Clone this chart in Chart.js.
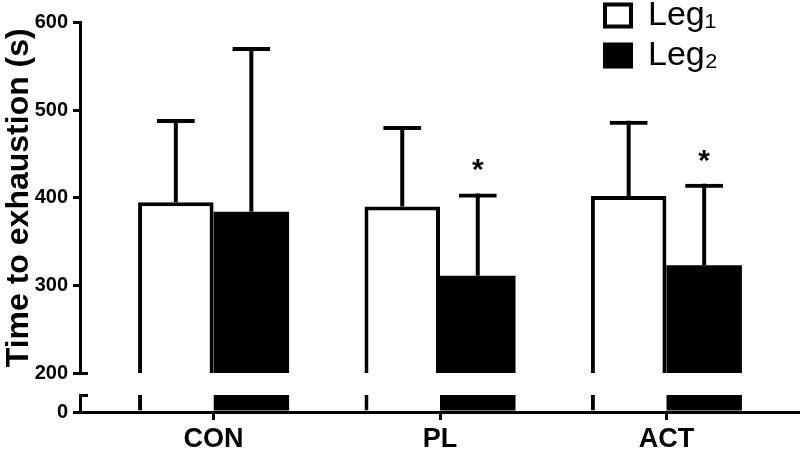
<!DOCTYPE html>
<html>
<head>
<meta charset="utf-8">
<script src="https://cdn.jsdelivr.net/npm/chart.js@4.4.1/dist/chart.umd.min.js"></script>
<style>
  body { margin: 0; background: #fff; }
  #wrap { width: 800px; height: 453px; position: relative; }
</style>
</head>
<body>
<div id="wrap"><canvas id="miGrafica"></canvas></div>
<script>
// datos
var categories = ["CON", "PL", "ACT"];
var legendNames = ["Leg\u2081", "Leg\u2082"];
var leg1Mean = [395, 390, 402];
var leg1Sd = [95, 92, 86];
var leg2Mean = [384, 311, 323];
var leg2Sd = [188, 94, 93];
var leg2Sig = ["", "*", "*"];
var yTicks = [200, 300, 400, 500, 600];
var lowTicks = [0, 20]; // tramo de abajo del eje cortado

var fuente = "'Liberation Sans', Arial, sans-serif";

function errData(mean, sd) { // barra flotante desde la media hasta media + sd
  return mean.map(function (m, i) { return [m, m + sd[i]]; });
}
function lowData(mean) { // la parte de la barra que cae en el tramo de abajo
  return mean.map(function (m) { return Math.min(m, lowTicks[1]); });
}

var capStyle = {
  backgroundColor: "rgba(0,0,0,0)", borderColor: "#000",
  borderWidth: { top: 4, left: 0, right: 0, bottom: 0 }, borderSkipped: false,
  maxBarThickness: 38, order: 0
};
var stemStyle = { backgroundColor: "#000", borderWidth: 0, maxBarThickness: 4, order: 0 };

var datasets = [
  Object.assign({ data: errData(leg1Mean, leg1Sd), stack: "a", yAxisID: "y" }, capStyle),
  Object.assign({ data: errData(leg1Mean, leg1Sd), stack: "a", yAxisID: "y" }, stemStyle),
  Object.assign({ data: errData(leg2Mean, leg2Sd), stack: "b", yAxisID: "y" }, capStyle),
  Object.assign({ data: errData(leg2Mean, leg2Sd), stack: "b", yAxisID: "y" }, stemStyle),
  { // Leg1 arriba
    data: leg1Mean, stack: "a", yAxisID: "y", order: 1,
    backgroundColor: "#fff", borderColor: "#000",
    borderWidth: { top: 4, left: 4, right: 4, bottom: 0 }, borderSkipped: false
  },
  { // Leg2 arriba
    data: leg2Mean, stack: "b", yAxisID: "y", order: 1,
    backgroundColor: "#000", borderWidth: 0
  },
  { // Leg1 abajo, solo el borde izquierdo
    data: lowData(leg1Mean), stack: "a", yAxisID: "y0", order: 1,
    backgroundColor: "#fff", borderColor: "#000",
    borderWidth: { top: 0, left: 4, right: 0, bottom: 0 }, borderSkipped: false
  },
  { // Leg2 abajo
    data: lowData(leg2Mean), stack: "b", yAxisID: "y0", order: 1,
    backgroundColor: "#000", borderWidth: 0
  }
];

var ejeGrid = { drawOnChartArea: false, color: "#000", lineWidth: 3, tickLength: 7, offset: false };
var ejeBorde = { color: "#000", width: 3 };

var extras = { // marcas del corte del eje, asteriscos y sitio de la leyenda
  id: "extras",
  afterLayout: function (chart) {
    var lg = chart.legend;
    lg.left = 599; lg.right = 800; lg.top = -7.5; lg.bottom = 150;
  },
  afterDraw: function (chart) {
    var ctx = chart.ctx;
    var x0 = chart.chartArea.left;
    ctx.save();
    ctx.strokeStyle = "#000";
    ctx.lineWidth = 3;
    [chart.scales.y.getPixelForValue(yTicks[0]), chart.scales.y0.getPixelForValue(lowTicks[1])].forEach(function (yy) {
      yy = Math.round(yy) + 0.5;
      ctx.beginPath();
      ctx.moveTo(x0, yy);
      ctx.lineTo(x0 + 8, yy);
      ctx.stroke();
    });
    var meta = chart.getDatasetMeta(2);
    ctx.fillStyle = "#000";
    ctx.font = "bold 30px " + fuente;
    ctx.textAlign = "center";
    ctx.textBaseline = "alphabetic";
    leg2Sig.forEach(function (s, i) {
      if (!s) return;
      var top = chart.scales.y.getPixelForValue(leg2Mean[i] + leg2Sd[i]);
      ctx.fillText(s, meta.data[i].x, top - 14);
    });
    ctx.restore();
  }
};

new Chart("miGrafica", {
  type: "bar",
  data: {
    labels: categories.map(function (c, i) { return i; }),
    datasets: datasets
  },
  options: {
    responsive: true,
    maintainAspectRatio: false,
    animation: false,
    categoryPercentage: 0.667,
    barPercentage: 1,
    layout: { padding: { top: 22.5, left: 0, right: 0, bottom: 0 } },
    plugins: {
      tooltip: { enabled: false },
      legend: {
        position: "chartArea",
        align: "start",
        labels: {
          color: "#000",
          font: { family: fuente, size: 34 },
          boxWidth: 26,
          boxHeight: 22,
          padding: 6,
          generateLabels: function () {
            return legendNames.map(function (t, i) {
              return { text: t, fillStyle: i ? "#000" : "#fff", strokeStyle: "#000", lineWidth: 4, hidden: false, datasetIndex: 4 + i };
            });
          }
        }
      }
    },
    scales: {
      x: {
        type: "linear",
        min: -0.59,
        max: 2.59,
        bounds: "data",
        offset: false,
        afterBuildTicks: function (scale) {
          scale.ticks = categories.map(function (c, i) { return { value: i }; });
        },
        afterFit: function (scale) { scale.height = 41; },
        ticks: {
          color: "#000",
          font: { family: fuente, size: 27, weight: "bold" },
          padding: 3,
          maxRotation: 0,
          autoSkip: false,
          callback: function (v) { return categories[v]; }
        },
        grid: Object.assign({}, ejeGrid, { tickLength: 8 }),
        border: ejeBorde
      },
      y: {
        type: "linear",
        position: "left",
        stack: "izq",
        stackWeight: 351,
        weight: 3,
        stacked: false,
        min: yTicks[0],
        max: yTicks[yTicks.length - 1],
        afterBuildTicks: function (scale) {
          scale.ticks = yTicks.map(function (v) { return { value: v }; });
        },
        afterFit: function (scale) { scale.width = 80; },
        ticks: { color: "#000", font: { family: fuente, size: 20, weight: "bold" }, padding: 5 },
        grid: ejeGrid,
        border: ejeBorde,
        title: {
          display: true,
          text: "Time to exhaustion (s)",
          color: "#000",
          font: { family: fuente, size: 32, weight: "bold" },
          padding: 0
        }
      },
      yg: {
        type: "linear",
        position: "left",
        stack: "izq",
        stackWeight: 22,
        weight: 2,
        display: false
      },
      y0: {
        type: "linear",
        position: "left",
        stack: "izq",
        stackWeight: 17,
        weight: 1,
        stacked: false,
        min: lowTicks[0],
        max: lowTicks[1],
        afterBuildTicks: function (scale) {
          scale.ticks = lowTicks.map(function (v) { return { value: v }; });
        },
        afterFit: function (scale) { scale.width = 80; },
        ticks: {
          color: "#000",
          font: { family: fuente, size: 20, weight: "bold" },
          padding: 5,
          callback: function (v) { return v === lowTicks[0] ? String(v) : ""; }
        },
        grid: ejeGrid,
        border: ejeBorde
      }
    }
  },
  plugins: [extras]
});
</script>
</body>
</html>
